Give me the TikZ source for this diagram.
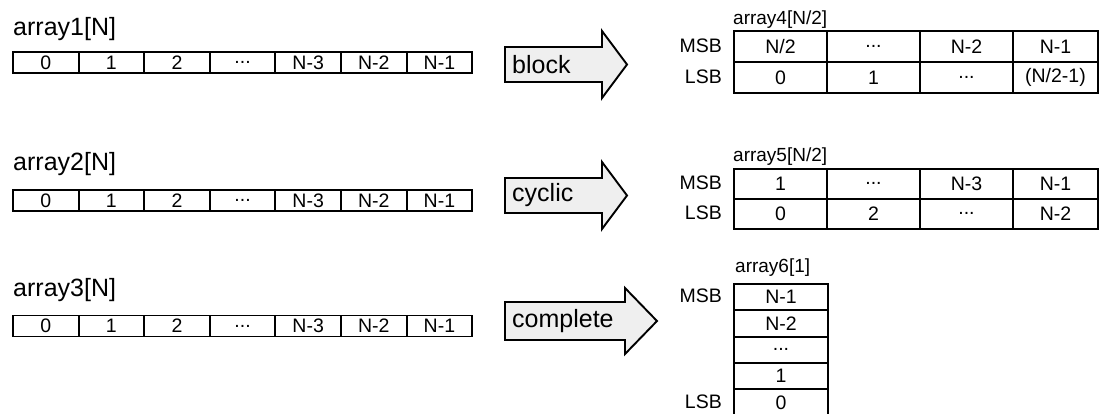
\documentclass[tikz,border=0pt]{standalone}
\usepackage{fontspec}
\setmainfont{Liberation Sans}
\newcommand\mydots{...}
\definecolor{arrowfill}{HTML}{EFEFEF}
\begin{document}
\begin{tikzpicture}[x=1pt,y=-1pt,
  cell/.style={draw,line width=1.9pt,inner sep=0pt,minimum height=21pt,font=\fontsize{19.5}{19.5}\selectfont},
  bigtext/.style={inner sep=0pt,anchor=west,font=\fontsize{25}{25}\selectfont},
  smalltext/.style={inner sep=0pt,anchor=west,font=\fontsize{19}{19}\selectfont},
  sidetext/.style={inner sep=0pt,anchor=east,font=\fontsize{19.5}{19.5}\selectfont},
  bigarrow/.style={draw,line width=1.9pt,fill=arrowfill,line join=miter}]
\useasboundingbox (0,0) rectangle (1099,413);
% left arrays
\foreach \r/\yl/\yc in {1/29/62.5,2/164/200.5,3/290/326}{
  \node[bigtext] (lab\r) at (13,\yl) {array\r[N]};
  \foreach \i/\t in {0/0,1/1,2/2,3/\mydots,4/N-3,5/N-2,6/N-1}{
    \node[cell,minimum width=65.6pt] (a\r c\i) at ({13+32.8+65.6*\i},\yc) {\t};
  }
}
% arrows
\draw[bigarrow] (505,47) -- (602,47) -- (602,31) -- (627,64.5) -- (602,98) -- (602,82) -- (505,82) -- cycle;
\node[bigtext] (t1) at (512,64.5) {block};
\draw[bigarrow] (505,178) -- (602,178) -- (602,162) -- (627,195.5) -- (602,229) -- (602,213) -- (505,213) -- cycle;
\node[bigtext] (t2) at (512,195.5) {cyclic};
\draw[bigarrow] (505,302) -- (625,302) -- (625,288) -- (657,321) -- (625,354) -- (625,340) -- (505,340) -- cycle;
\node[bigtext] (t3) at (512,321) {complete};
% array4
\node[smalltext] (lab4) at (733,20) {array4[N/2]};
\node[sidetext] (msb4) at (722,45.5) {MSB};
\node[sidetext] (lsb4) at (722,76.5) {LSB};
\foreach \x/\w/\m/\l [count=\k] in {733/93/N\slash 2/0,826/93/\mydots/1,919/93/N-2/\mydots,1012/85/N-1/(N\slash 2-1)}{
  \node[cell,minimum width=\w pt,minimum height=31pt,anchor=north west] (m4c\k) at (\x,30) {\m};
  \node[cell,minimum width=\w pt,minimum height=31pt,anchor=north west] (l4c\k) at (\x,61) {\l};
}
% array5
\node[smalltext] (lab5) at (733,157) {array5[N/2]};
\node[sidetext] (msb5) at (722,183) {MSB};
\node[sidetext] (lsb5) at (722,213) {LSB};
\foreach \x/\w/\m/\l [count=\k] in {733/93/1/0,826/93/\mydots/2,919/93/N-3/\mydots,1012/85/N-1/N-2}{
  \node[cell,minimum width=\w pt,minimum height=30pt,anchor=north west] (m5c\k) at (\x,168) {\m};
  \node[cell,minimum width=\w pt,minimum height=30pt,anchor=north west] (l5c\k) at (\x,198) {\l};
}
% array6
\node[smalltext] (lab6) at (735,268) {array6[1]};
\node[sidetext] (msb6) at (722,296) {MSB};
\node[sidetext] (lsb6) at (722,401.5) {LSB};
\foreach \t [count=\k] in {N-1,N-2,\mydots,1,0}{
  \node[cell,minimum width=94pt,minimum height=26.3pt,anchor=north west] (c6\k) at (733,{283+26.3*(\k-1)}) {\t};
}
\end{tikzpicture}
\end{document}
